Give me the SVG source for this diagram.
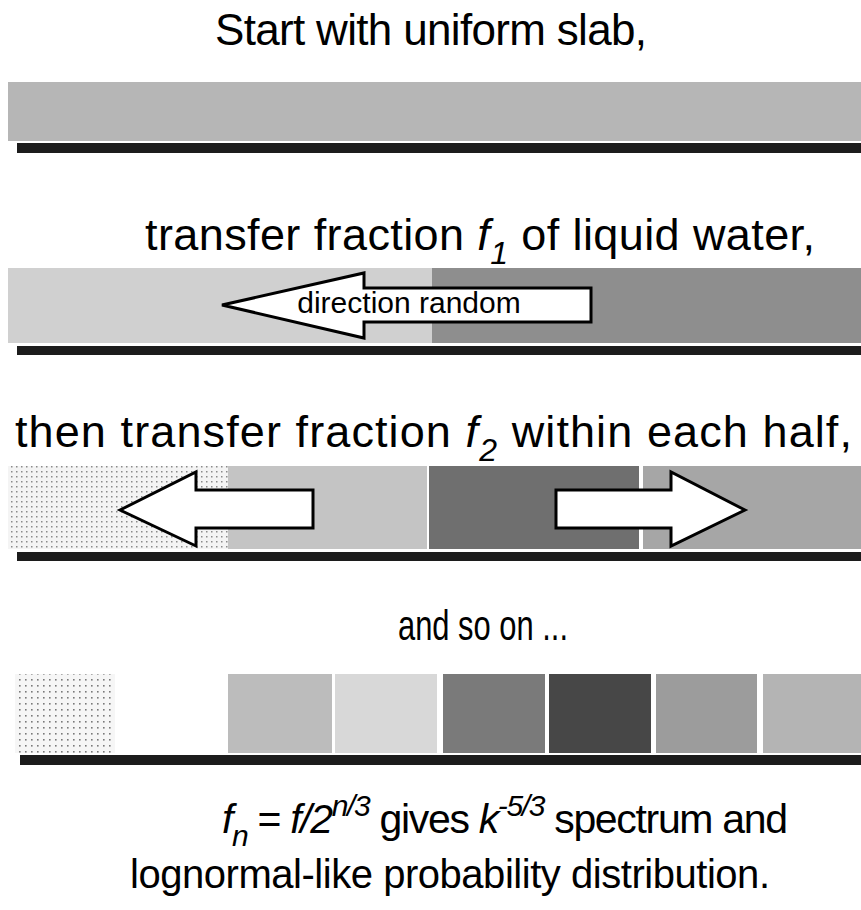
<svg xmlns="http://www.w3.org/2000/svg" width="861" height="910" viewBox="0 0 861 910">
<style>
.t{font-family:"Liberation Sans",Arial,Helvetica,sans-serif;fill:#000;}
.h{font-size:45px;}
.i{font-style:italic;}
.s{font-size:32px;}
.bar{fill:#1c1c1c;}
.arrow{fill:#fff;stroke:#000;stroke-width:3;stroke-linejoin:miter;}
</style>
<defs>
<pattern id="dots" width="5" height="5" patternUnits="userSpaceOnUse">
<rect width="5" height="5" fill="#f4f4f4"/>
<rect x="1" y="1" width="1.5" height="1.5" fill="#8a8a8a"/>
</pattern>
<pattern id="dots2" width="6" height="6" patternUnits="userSpaceOnUse">
<rect width="6" height="6" fill="#f6f6f6"/>
<rect x="1" y="1" width="1.6" height="1.6" fill="#7a7a7a"/>
</pattern>
</defs>

<g id="row1">
<text class="t" x="215" y="45" font-size="44" textLength="432" lengthAdjust="spacing">Start with uniform slab,</text>
<rect x="8" y="82" width="853" height="59" fill="#b6b6b6"/>
<rect class="bar" x="17" y="143" width="844" height="10"/>
</g>

<g id="row2">
<text class="t h" x="145" y="250" textLength="670" lengthAdjust="spacing">transfer fraction <tspan class="i">f</tspan><tspan class="i s" dy="14">1</tspan><tspan dy="-14"> of liquid water,</tspan></text>
<rect x="8" y="268" width="424" height="75" fill="#d0d0d0"/>
<rect x="432" y="268" width="429" height="75" fill="#8e8e8e"/>
<rect class="bar" x="17" y="346" width="844" height="9"/>
</g>

<g id="row3">
<text class="t h" x="15" y="447" textLength="837" lengthAdjust="spacing">then transfer fraction <tspan class="i">f</tspan><tspan class="i s" dy="14">2</tspan><tspan dy="-14"> within each half,</tspan></text>
<rect x="8" y="466" width="220" height="83" fill="url(#dots)"/>
<rect x="228" y="466" width="199" height="83" fill="#c4c4c4"/>
<rect x="429" y="466" width="210" height="83" fill="#6f6f6f"/>
<rect x="643" y="466" width="218" height="83" fill="#a6a6a6"/>
<rect class="bar" x="17" y="552" width="844" height="9"/>
</g>

<g id="row4">
<text class="t" x="398" y="640" font-size="42" textLength="170" lengthAdjust="spacingAndGlyphs">and so on ...</text>
<rect x="15" y="674" width="100" height="79" fill="url(#dots2)"/>
<rect x="228" y="674" width="104" height="79" fill="#bcbcbc"/>
<rect x="335" y="674" width="102" height="79" fill="#d8d8d8"/>
<rect x="443" y="674" width="102" height="79" fill="#7a7a7a"/>
<rect x="549" y="674" width="102" height="79" fill="#474747"/>
<rect x="656" y="674" width="101" height="79" fill="#9c9c9c"/>
<rect x="763" y="674" width="98" height="79" fill="#b4b4b4"/>
<rect class="bar" x="20" y="755" width="841" height="10"/>
</g>

<g id="connectors">
<path class="arrow" d="M222,305 L364,273 L364,288 L591,288 L591,322 L364,322 L364,338 Z"/>
<path class="arrow" d="M120,510 L196,472 L196,490 L313,490 L313,528 L196,528 L196,546 Z"/>
<path class="arrow" d="M745,510 L671,472 L671,490 L556,490 L556,528 L671,528 L671,546 Z"/>
</g>

<g id="arrow-label">
<text class="t" x="409" y="313" text-anchor="middle" font-size="30">direction random</text>
</g>

<g id="formula">
<text class="t" x="222" y="833" font-size="41" textLength="566" lengthAdjust="spacing"><tspan class="i">f</tspan><tspan class="i" font-size="30" dy="13">n</tspan><tspan dy="-13"> = </tspan><tspan class="i">f/2</tspan><tspan class="i" font-size="30" dy="-17">n/3</tspan><tspan dy="17"> gives </tspan><tspan class="i">k</tspan><tspan class="i" font-size="30" dy="-17">-5/3</tspan><tspan dy="17"> spectrum and</tspan></text>
<text class="t" x="130" y="888" font-size="40" textLength="640" lengthAdjust="spacing">lognormal-like probability distribution.</text>
</g>
</svg>
